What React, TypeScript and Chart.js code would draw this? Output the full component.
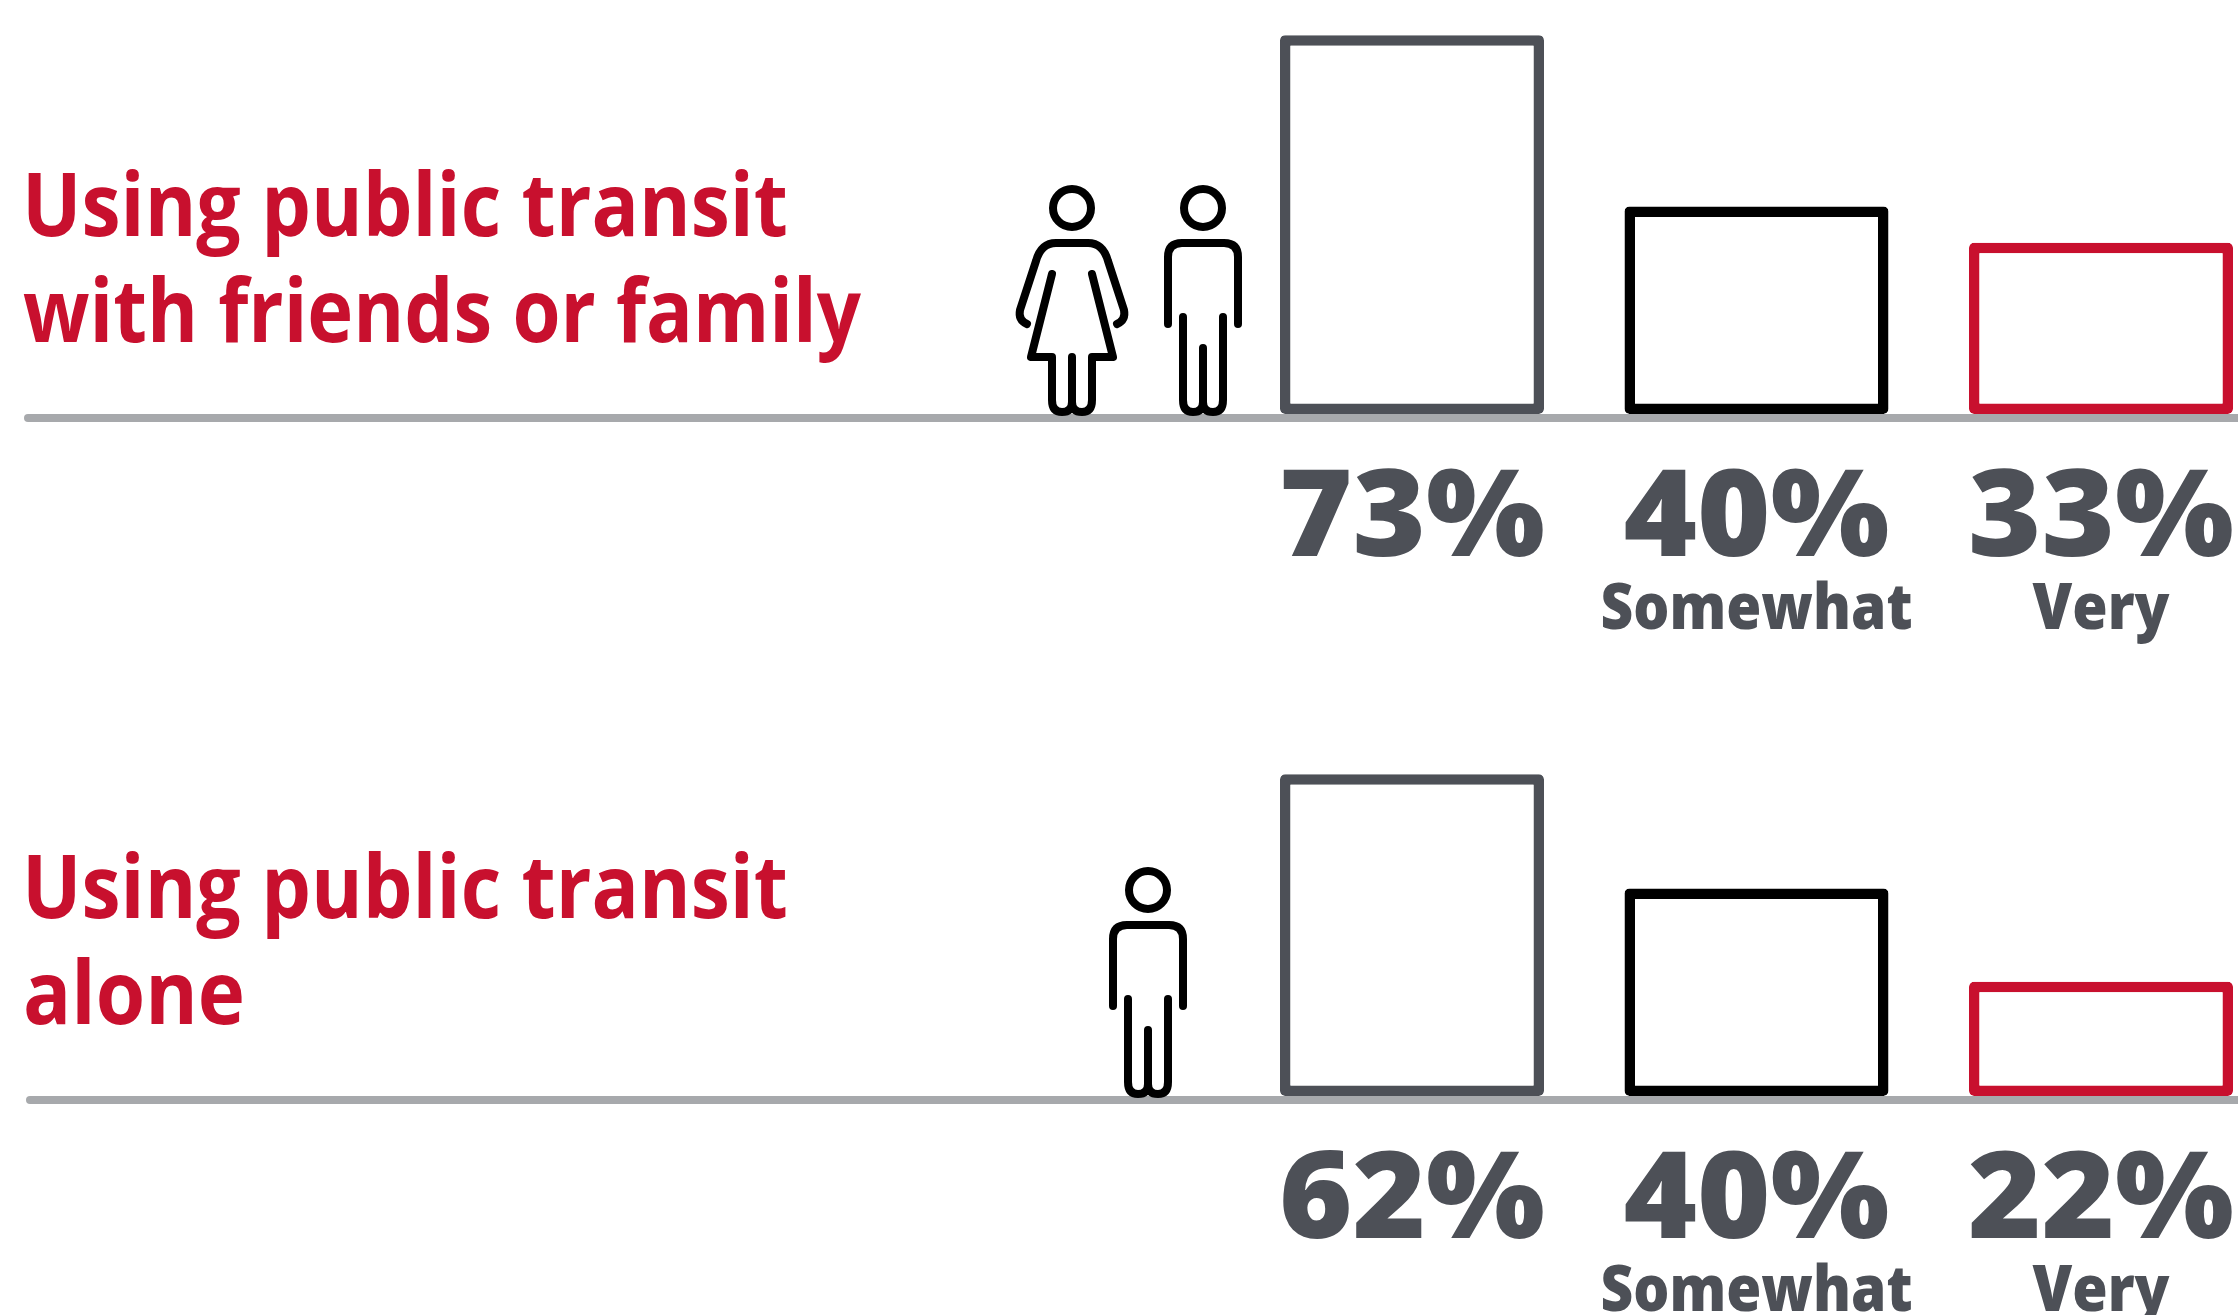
import React, { useEffect, useRef } from "react";
import { Chart, registerables } from "chart.js";

Chart.register(...registerables);

const categories = ["Total", "Somewhat", "Very"];
const friendsFamilyValues = [73, 40, 33];
const aloneValues = [62, 40, 22];
const levelLabels = ["", "Somewhat", "Very"];
const friendsFamilyTitle = ["Using public transit", "with friends or family"];
const aloneTitle = ["Using public transit", "alone"];

const RED = "#C8102E";
const GREY = "#4D5057";
const LINE = "#A7A9AC";
const barColors = [GREY, "#000000", RED];

const W = 2238;
const H = 1315;
const PX_PER_PCT = 5.19;
const BASE_TOP = 414;
const BASE_BOTTOM = 1096;

const fit = (ctx: any, text: string, x: number, y: number, width: number, font: string, color: string, center = false) => {
  if (!text) return;
  ctx.save();
  ctx.font = font;
  ctx.fillStyle = color;
  ctx.textBaseline = "alphabetic";
  ctx.textAlign = "left";
  const m = ctx.measureText(text).width;
  const sx = width / m;
  ctx.translate(center ? x - width / 2 : x, y);
  ctx.scale(sx, 1);
  ctx.fillText(text, 0, 0);
  ctx.restore();
};

const legs = (ctx: any) => {
  ctx.moveTo(-20, -14);
  ctx.quadraticCurveTo(-20, -2, -10, -2);
  ctx.quadraticCurveTo(0, -2, 0, -12);
  ctx.quadraticCurveTo(0, -2, 10, -2);
  ctx.quadraticCurveTo(20, -2, 20, -14);
};

const head = (ctx: any) => {
  ctx.beginPath();
  ctx.arc(0, -206, 19, 0, Math.PI * 2);
  ctx.stroke();
};

const drawMan = (ctx: any, cx: number, base: number) => {
  ctx.save();
  ctx.translate(cx, base);
  ctx.strokeStyle = "#000";
  ctx.lineWidth = 8;
  ctx.lineCap = "round";
  ctx.lineJoin = "round";
  head(ctx);
  ctx.beginPath();
  ctx.moveTo(-35, -90);
  ctx.lineTo(-35, -157);
  ctx.quadraticCurveTo(-35, -171, -21, -171);
  ctx.lineTo(21, -171);
  ctx.quadraticCurveTo(35, -171, 35, -157);
  ctx.lineTo(35, -90);
  ctx.moveTo(-20, -97);
  ctx.lineTo(-20, -14);
  ctx.moveTo(20, -97);
  ctx.lineTo(20, -14);
  ctx.moveTo(0, -66);
  ctx.lineTo(0, -12);
  legs(ctx);
  ctx.stroke();
  ctx.restore();
};

const drawWoman = (ctx: any, cx: number, base: number) => {
  ctx.save();
  ctx.translate(cx, base);
  ctx.strokeStyle = "#000";
  ctx.lineWidth = 8;
  ctx.lineCap = "round";
  ctx.lineJoin = "round";
  head(ctx);
  ctx.beginPath();
  ctx.moveTo(-45, -90);
  ctx.quadraticCurveTo(-54, -94, -52, -104);
  ctx.lineTo(-36, -153);
  ctx.quadraticCurveTo(-31, -171, -16, -171);
  ctx.lineTo(16, -171);
  ctx.quadraticCurveTo(31, -171, 36, -153);
  ctx.lineTo(52, -104);
  ctx.quadraticCurveTo(54, -94, 45, -90);
  ctx.moveTo(-20, -140);
  ctx.lineTo(-41, -57);
  ctx.lineTo(-20, -57);
  ctx.lineTo(-20, -14);
  ctx.moveTo(20, -140);
  ctx.lineTo(41, -57);
  ctx.lineTo(20, -57);
  ctx.lineTo(20, -14);
  ctx.moveTo(0, -57);
  ctx.lineTo(0, -12);
  legs(ctx);
  ctx.stroke();
  ctx.restore();
};

const annotations = {
  id: "annotations",
  beforeDatasetsDraw(chart: any) {
    const { ctx, scales } = chart;
    [scales.yTop, scales.yBottom].forEach((y: any, i: number) => {
      const base = y.getPixelForValue(0);
      ctx.save();
      ctx.strokeStyle = LINE;
      ctx.lineWidth = 8;
      ctx.lineCap = "round";
      ctx.beginPath();
      ctx.moveTo(i === 0 ? 28 : 30, base + 4);
      ctx.lineTo(W + 10, base + 4);
      ctx.stroke();
      ctx.restore();
    });
  },
  afterDatasetsDraw(chart: any) {
    const { ctx, scales } = chart;
    const panels = [
      { y: scales.yTop, values: friendsFamilyValues, title: friendsFamilyTitle, widths: [766, 838], xs: [22, 23] },
      { y: scales.yBottom, values: aloneValues, title: aloneTitle, widths: [766, 222], xs: [22, 23] },
    ];
    const titleFont = '700 87px "Open Sans"';
    const valueFont = '800 120px "Open Sans"';
    const labelFont = '800 64px "Open Sans"';
    panels.forEach((p) => {
      const base = p.y.getPixelForValue(0);
      p.title.forEach((t, i) => fit(ctx, t, p.xs[i], base + (i === 0 ? -178 : -72), p.widths[i], titleFont, RED));
      p.values.forEach((v, i) => {
        const cx = scales.x.getPixelForValue(i);
        fit(ctx, `${v}%`, cx, base + 142, 266, valueFont, GREY, true);
        const lw = levelLabels[i] === "Somewhat" ? 312 : 137;
        fit(ctx, levelLabels[i], cx, base + 215, lw, labelFont, GREY, true);
      });
    });
    drawWoman(ctx, 1072, BASE_TOP);
    drawMan(ctx, 1203, BASE_TOP);
    drawMan(ctx, 1148, BASE_BOTTOM);
  },
};

const barDataset = (label: string, data: number[], yAxisID: string) => ({
  label,
  data,
  yAxisID,
  backgroundColor: "#FFFFFF",
  borderColor: barColors,
  borderWidth: 10.5,
  borderRadius: 5,
  borderSkipped: false,
  inflateAmount: 0,
  barThickness: 264,
  grouped: false,
  clip: false,
});

export default function App() {
  const ref = useRef<HTMLCanvasElement>(null);
  useEffect(() => {
    document.body.style.margin = "0";
    document.body.style.background = "#FFFFFF";
    const chart = new Chart(ref.current as HTMLCanvasElement, {
      type: "bar",
      data: {
        labels: categories,
        datasets: [
          barDataset("With friends or family", friendsFamilyValues, "yTop"),
          barDataset("Alone", aloneValues, "yBottom"),
        ] as any,
      },
      plugins: [annotations],
      options: {
        animation: false,
        responsive: false,
        devicePixelRatio: 1,
        layout: { padding: { left: 1412, right: W - 2101, top: 0, bottom: 0 } },
        plugins: { legend: { display: false }, tooltip: { enabled: false }, title: { display: false } },
        scales: {
          x: { type: "category", offset: false, display: false },
          yTop: {
            type: "linear",
            display: false,
            min: -(H - BASE_TOP) / PX_PER_PCT,
            max: BASE_TOP / PX_PER_PCT,
            grid: { display: false },
          },
          yBottom: {
            type: "linear",
            display: false,
            min: -(H - BASE_BOTTOM) / PX_PER_PCT,
            max: BASE_BOTTOM / PX_PER_PCT,
            grid: { display: false },
          },
        },
      } as any,
    });
    return () => chart.destroy();
  }, []);
  return (
    <canvas
      ref={ref}
      width={W}
      height={H}
      style={{ display: "block", width: W, height: H, background: "#FFFFFF" }}
    />
  );
}
